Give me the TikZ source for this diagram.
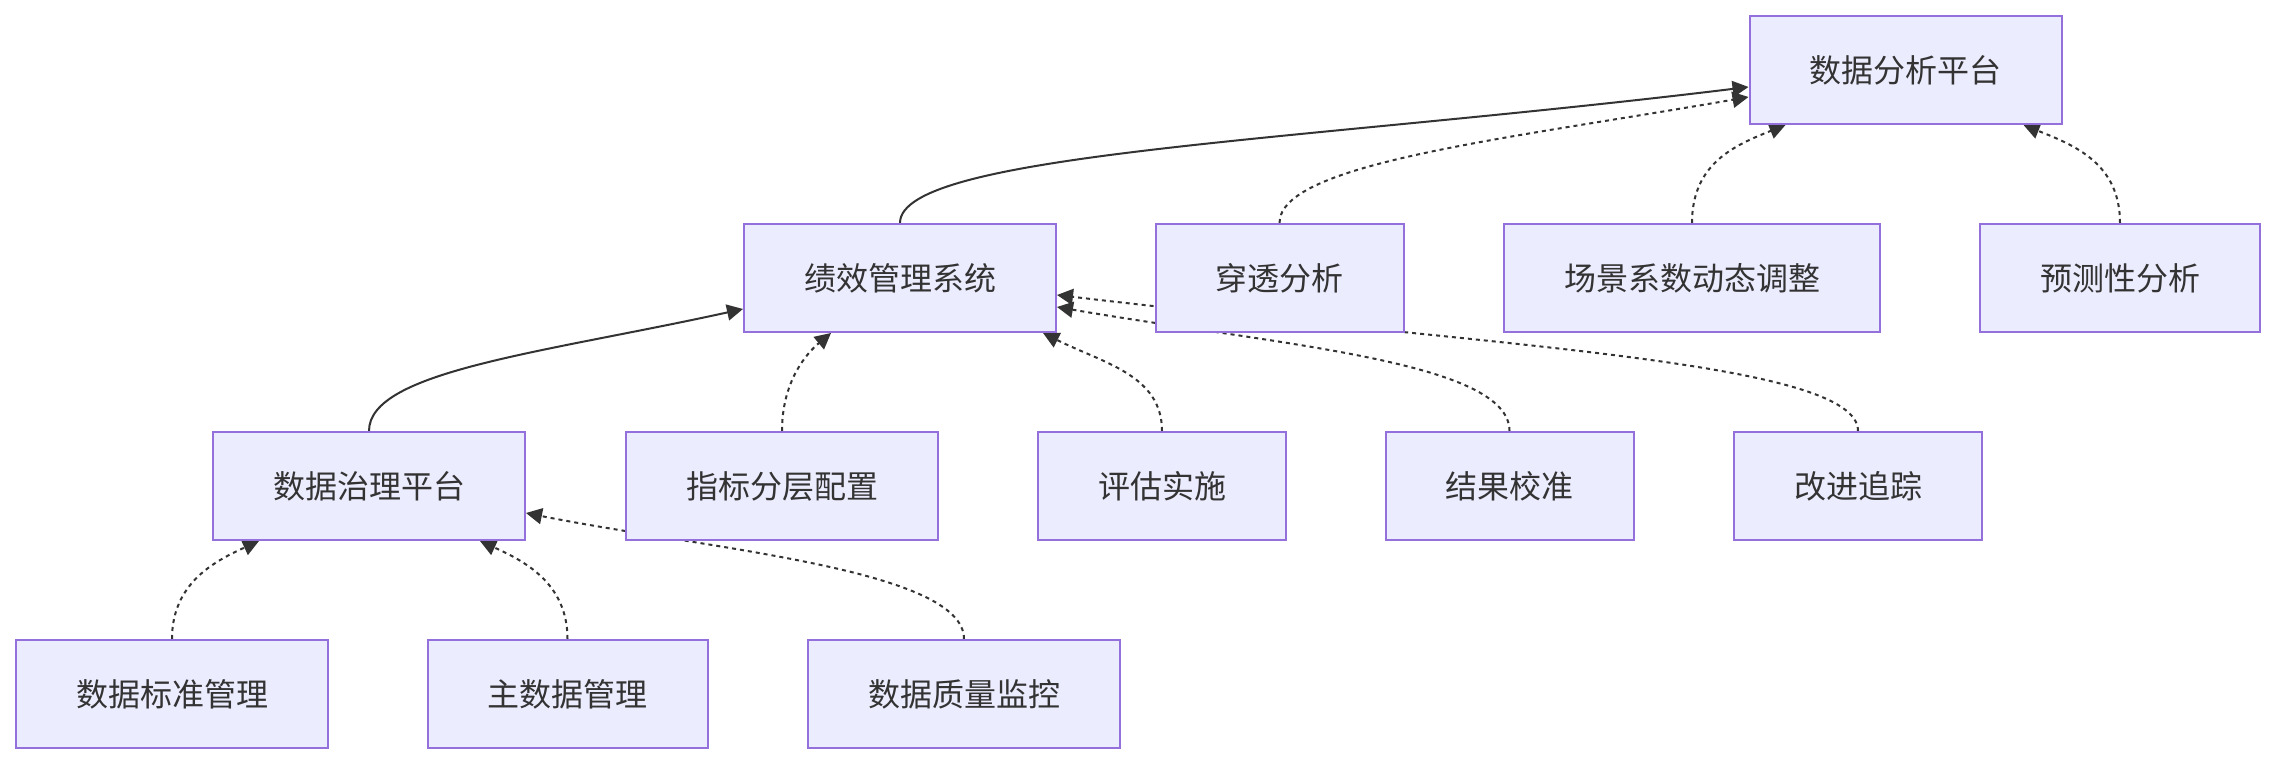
\documentclass[tikz,border=0pt]{standalone}
\usepackage{fontspec}
\setmainfont{Noto Sans CJK SC}
\usetikzlibrary{arrows.meta}
\definecolor{boxfill}{HTML}{ECECFF}
\definecolor{boxline}{HTML}{9370DB}
\definecolor{ink}{HTML}{333333}
\pgfdeclarelayer{background}
\pgfsetlayers{background,main}

\begin{document}
\begin{tikzpicture}[
  x=1pt,
  y=1pt,
  arr/.tip={Triangle[length=8pt,width=8pt]},
  sysbox/.style={
    draw=boxline,
    fill=boxfill,
    line width=1pt,
    text=ink,
    font=\fontsize{16pt}{20pt}\selectfont,
    minimum height=54pt,
    inner xsep=30pt
  },
  solidlink/.style={
    -arr,
    draw=ink,
    line width=1pt
  },
  dashlink/.style={
    solidlink,
    dash pattern=on 2pt off 2pt
  }
]
  \useasboundingbox (0,0) rectangle (1138,382);

  % top
  \node[sysbox] (Ana) at (952.75,347) {数据分析平台};

  % second row
  \node[sysbox] (Perf)  at (450,243)    {绩效管理系统};
  \node[sysbox] (Pen)   at (639.75,243) {穿透分析};
  \node[sysbox] (Scene) at (846,243)    {场景系数动态调整};
  \node[sysbox] (Pred)  at (1060,243)   {预测性分析};

  % third row
  \node[sysbox] (Gov) at (184.5,139)  {数据治理平台};
  \node[sysbox] (Ind) at (391,139)    {指标分层配置};
  \node[sysbox] (Eva) at (581,139)    {评估实施};
  \node[sysbox] (Cal) at (754.75,139) {结果校准};
  \node[sysbox] (Imp) at (929,139)    {改进追踪};

  % bottom row
  \node[sysbox] (Std) at (86,35)     {数据标准管理};
  \node[sysbox] (Mdm) at (283.75,35) {主数据管理};
  \node[sysbox] (Dq)  at (482,35)    {数据质量监控};

  \begin{pgfonlayer}{background}
    \fill[white] (0,0) rectangle (1138,382);

    % main chain
    \draw[solidlink] (Perf.north) .. controls +(0,35) and +(-225,-27.5) .. ([yshift=-8.5pt]Ana.west);
    \draw[solidlink] (Gov.north) .. controls +(0,30) and +(-100,-22) .. ([yshift=-15.5pt]Perf.west);

    % into the analysis platform
    \draw[dashlink] (Pen.north) .. controls +(0,30) and +(-120,-21) .. ([yshift=-13.5pt]Ana.west);
    \draw[dashlink] (Scene.north) .. controls +(0,30) and +(-25,-10) .. ([xshift=-60pt]Ana.south);
    \draw[dashlink] (Pred.north) .. controls +(0,30) and +(25,-10) .. ([xshift=59pt]Ana.south);

    % into the performance system
    \draw[dashlink] (Ind.north) .. controls +(0,25) and +(-12,-10) .. ([xshift=-34.5pt]Perf.south);
    \draw[dashlink] (Eva.north) .. controls +(0,28) and +(30,-15) .. ([xshift=71.5pt]Perf.south);
    \draw[dashlink] (Cal.north) .. controls +(0,35) and +(110,-19) .. ([yshift=-14.5pt]Perf.east);
    \draw[dashlink] (Imp.north) .. controls +(0,35) and +(220,-26) .. ([yshift=-8.5pt]Perf.east);

    % into the governance platform
    \draw[dashlink] (Std.north) .. controls +(0,28) and +(-22,-10) .. ([xshift=-55pt]Gov.south);
    \draw[dashlink] (Mdm.north) .. controls +(0,28) and +(22,-10) .. ([xshift=55.5pt]Gov.south);
    \draw[dashlink] (Dq.north) .. controls +(0,35) and +(90,-18) .. ([yshift=-13.5pt]Gov.east);
  \end{pgfonlayer}
\end{tikzpicture}
\end{document}
